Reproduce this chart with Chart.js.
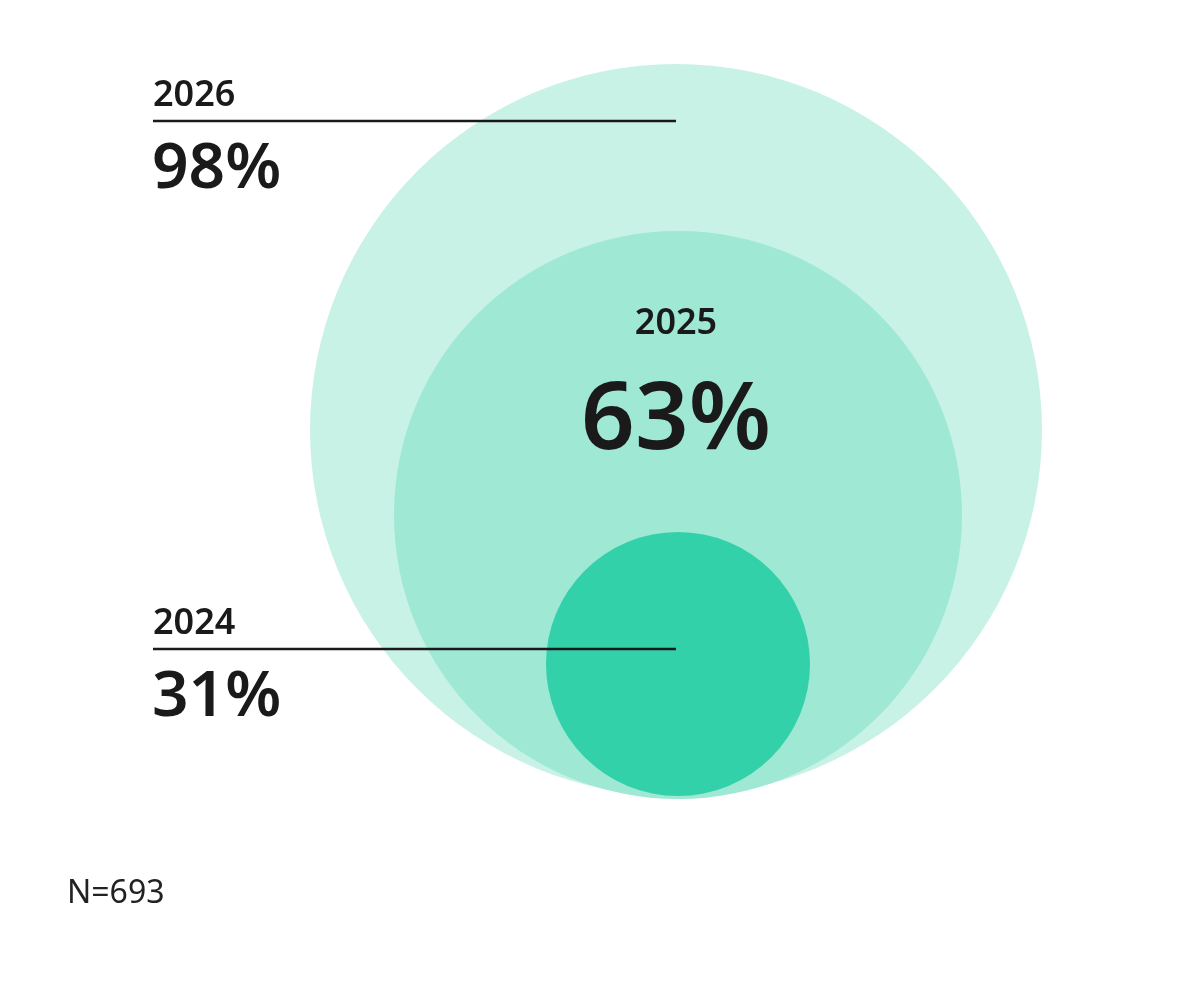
<!DOCTYPE html>
<html><head><meta charset="utf-8">
<script src="https://cdn.jsdelivr.net/npm/chart.js@4/dist/chart.umd.min.js"></script>
<style>html,body{margin:0;padding:0;background:#fff}#w{width:1197px;height:981px}</style>
</head><body><div id="w"><canvas id="c"></canvas></div>
<script>
const years = ['2026','2025','2024'];
const values = [98, 63, 31];
const centerX = [676, 678, 678];
const centerY = [430, 515, 664];
const radii = [366, 284, 132];
const colors = ['#c9f2e6','#9ee8d4','#33d1a9'];
const note = 'N=693';

const labelsPlugin = {
  id:'lbl',
  afterDatasetsDraw(chart){
    const {ctx, scales:{x,y}} = chart;
    ctx.save();
    ctx.fillStyle='#1a1a1a'; ctx.strokeStyle='#1a1a1a';
    const F='"Noto Sans", sans-serif';
    const side=(i,yb)=>{
      ctx.textAlign='left';
      ctx.font='600 36px '+F; ctx.fillText(years[i],153,yb);
      ctx.lineWidth=2.5; ctx.beginPath(); ctx.moveTo(153,yb+15); ctx.lineTo(x.getPixelForValue(centerX[0]),yb+15); ctx.stroke();
      ctx.font='600 64px '+F; ctx.fillText(values[i]+'%',152,yb+82);
    };
    side(0,106); side(2,634);
    ctx.textAlign='center';
    ctx.font='600 36px '+F; ctx.fillText(years[1],x.getPixelForValue(centerX[0]),334);
    ctx.font='600 94px '+F; ctx.fillText(values[1]+'%',x.getPixelForValue(centerX[0]),449);
    ctx.textAlign='left'; ctx.font='400 32px '+F; ctx.fillStyle='#222'; ctx.fillText(note,67,903);
    ctx.restore();
  }
};

new Chart(document.getElementById('c'),{
  type:'bubble',
  data:{datasets:years.map((yr,i)=>({
    label:yr,
    data:[{x:centerX[i],y:centerY[i],r:radii[i]}],
    backgroundColor:colors[i], borderWidth:0, hoverBorderWidth:0,
    order:-i, clip:false,
    radius:(c)=>{const s=c.chart.scales.y; return Math.abs(s.getPixelForValue(0)-s.getPixelForValue(c.raw.r));}
  }))},
  options:{
    responsive:true, maintainAspectRatio:false, animation:false,
    layout:{padding:0, autoPadding:false},
    plugins:{legend:{display:false},tooltip:{enabled:false}},
    scales:{
      x:{type:'linear',min:0,max:1197,display:false},
      y:{type:'linear',min:0,max:981,reverse:true,display:false}
    }
  },
  plugins:[labelsPlugin]
});
</script></body></html>
